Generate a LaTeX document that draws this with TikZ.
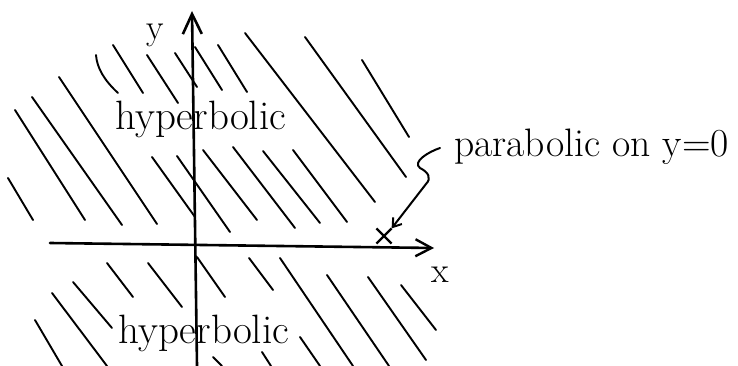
\documentclass[tikz,border=0pt]{standalone}
\usetikzlibrary{arrows.meta,shapes.misc}
\begin{document}
\begin{tikzpicture}[x=1pt,y=-1pt,
  hatch/.style={line width=1.9pt,line cap=round},
  axisline/.style={line width=2.6pt,line cap=round},
  lbl/.style={inner sep=0pt,font=\fontsize{36}{40}\selectfont},
  bigl/.style={inner sep=0pt,font=\fontsize{41}{46}\selectfont},
  parl/.style={inner sep=0pt,font=\fontsize{39.7}{44}\selectfont}]
\useasboundingbox (0,0) rectangle (738,366);
% axes
\coordinate (xs) at (50,243);
\coordinate (xe) at (434,248);
\coordinate (ys) at (197,366);
\coordinate (ye) at (192,11);
\draw[axisline,-{Straight Barb[length=16pt,width=17pt,line width=2.4pt]}] (xs) -- (xe);
\draw[axisline,-{Straight Barb[length=20pt,width=19pt,line width=2.6pt]}] (ys) -- (ye);
% hatching, upper half
\foreach \a/\b/\c/\d in {8/178/33/220, 15/110/85/220, 32/97/122/225, 59/77/157/224,
  113/45/143/93, 147/55/178/103, 175/53/197/87, 195/47/222/90, 218/45/247/92,
  245/33/375/202, 305/37/406/177, 362/60/409/137,
  152/157/195/217, 177/156/230/232, 203/150/257/220, 233/147/295/228,
  263/151/320/223, 293/150/347/222}
  \draw[hatch] (\a,\b) -- (\c,\d);
\draw[hatch] (96,55) .. controls (97,68) and (104,80) .. (118,93);
% hatching, lower half
\foreach \a/\b/\c/\d in {35/320/62/366, 52/293/107/366, 73/282/112/328,
  107/263/133/297, 148/263/182/307, 197/257/225/297, 249/258/273/290,
  280/258/353/366, 327/275/389/366, 368/277/426/360, 401/285/436/330,
  213/357/222/366, 262/352/271/366, 300/337/320/366}
  \draw[hatch] (\a,\b) -- (\c,\d);
% labels
\node[lbl,anchor=base] (ylab) at (155,40) {y};
\node[lbl,anchor=base] (xlab) at (440,282) {x};
\node[bigl,anchor=base west] (hyp1) at (115,130) {hyperbolic};
\node[bigl,anchor=base west] (hyp2) at (118,343) {hyperbolic};
\node[parl,anchor=base west] (para) at (454,157) {parabolic on y=0};
% marked point and leader
\node[cross out,draw,line width=2.2pt,minimum size=13pt,inner sep=0pt] (pt) at (384,236) {};
\coordinate (lead0) at (440,148);
\draw[line width=2pt,line cap=round,-{Straight Barb[length=8pt,width=11pt,line width=2pt]}]
  (lead0) .. controls (428,152) and (412,162) .. (420,168)
  .. controls (428,172) and (432,178) .. (426,184) -- (pt.north east);
\end{tikzpicture}
\end{document}
